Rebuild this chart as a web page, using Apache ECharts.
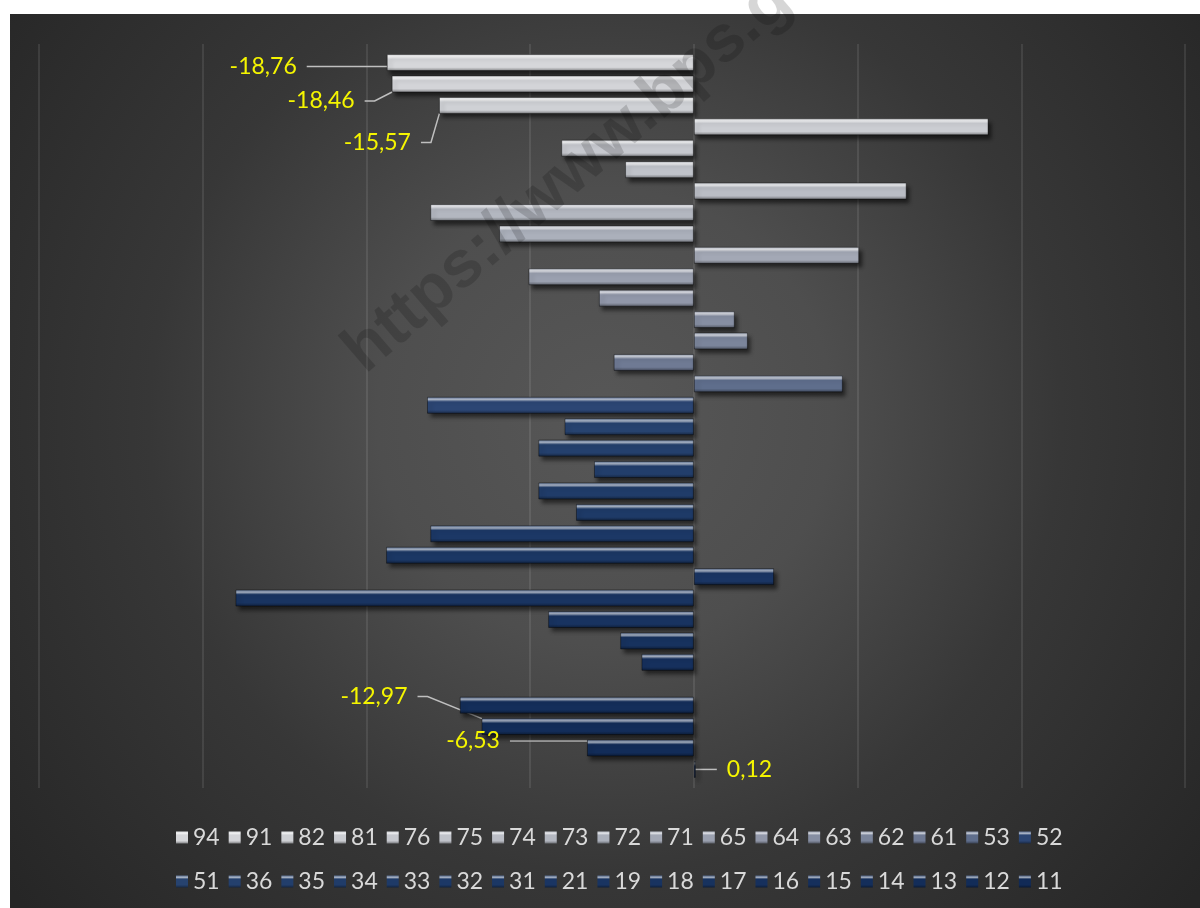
<!DOCTYPE html>
<html>
<head>
<meta charset="utf-8">
<script src="https://cdn.jsdelivr.net/npm/echarts@6/dist/echarts.min.js"></script>
<style>
  html, body { margin: 0; padding: 0; background: #fff; }
  #chart { width: 1200px; height: 908px; }
</style>
</head>
<body>
<div id="chart"></div>
<script>
// series names (legend order, top bar first)
const names = ['94','91','82','81','76','75','74','73','72','71','65','64','63','62','61','53','52',
               '51','36','35','34','33','32','31','21','19','18','17','16','15','14','13','12','11'];
const values = [-18.76, -18.46, -15.57, 18.0, -8.1, -4.2, 13.0, -16.1, -11.9, 10.1, -10.1, -5.8, 2.5, 3.3, -4.9, 9.1, -16.3,
                -7.9, -9.5, -6.1, -9.5, -7.2, -16.1, -18.8, 4.9, -28.0, -8.9, -4.5, -3.2, null, -14.3, -12.97, -6.53, 0.12];
const colors = ['#d6d7da','#d3d4d8','#cfd1d5','#cbcdd2','#c6c8ce','#c0c3ca','#babdc5','#b3b7c0','#abb0bb','#a3a8b5',
                '#9aa0af','#9197a9','#868ea2','#7b859b','#6f7a94','#5f6e8c','#2c4674','#27436f','#24406d','#223e6b',
                '#203c69','#1e3a67','#1c3866','#1b3764','#1a3563','#193461','#183360','#17325e','#16305d','#152f5c',
                '#142e5a','#132d59','#122c58','#112a56'];
const row1 = names.slice(0, 17);
const row2 = names.slice(17);
// which bars carry a value label
const labelled = {
  '94': { position: 'left', distance: 80, dy: 4 },
  '91': { position: 'left', distance: 27, dy: 17 },
  '82': { position: 'left', distance: 18, dy: 37 },
  '13': { position: 'left', distance: 64, dy: -30 },
  '12': { position: 'left', distance: 77, dy: -7 },
  '11': { position: 'right', distance: 21, dy: 0 }
};

const FONT = 'Lato, "Open Sans", sans-serif';

function shade(hex, amt) {
  let c = parseInt(hex.slice(1), 16);
  let r = c >> 16, g = (c >> 8) & 255, b = c & 255;
  const t = amt < 0 ? 0 : 255, p = Math.abs(amt);
  r = Math.round(r + (t - r) * p); g = Math.round(g + (t - g) * p); b = Math.round(b + (t - b) * p);
  return 'rgb(' + r + ',' + g + ',' + b + ')';
}

function bevel(hex) {
  return new echarts.graphic.LinearGradient(0, 0, 0, 1, [
    { offset: 0, color: shade(hex, 0.25) },
    { offset: 0.16, color: shade(hex, 0.6) },
    { offset: 0.3, color: hex },
    { offset: 0.78, color: hex },
    { offset: 1, color: shade(hex, -0.4) }
  ]);
}

const series = names.map((n, i) => {
  const lab = labelled[n];
  const s = {
    name: n,
    type: 'bar',
    data: [values[i]],
    barWidth: 17,
    barGap: '26%',
    itemStyle: {
      color: bevel(colors[i]),
      borderColor: 'rgba(0,0,0,0.4)',
      borderWidth: 1,
      shadowColor: 'rgba(0,0,0,0.55)',
      shadowBlur: 4,
      shadowOffsetX: 3,
      shadowOffsetY: 4
    },
    label: { show: false }
  };
  if (lab) {
    s.label = {
      show: true,
      position: lab.position,
      distance: lab.distance,
      padding: [0, 10, 0, 10],
      backgroundColor: 'rgba(0,0,0,0)',
      color: '#f5f500',
      fontFamily: FONT,
      fontSize: 23,
      formatter: p => p.value.toFixed(2).replace('.', ',')
    };
    s.labelLayout = { dy: lab.dy };
    s.labelLine = { show: true, length2: 10, lineStyle: { color: '#bfbfbf', width: 1.5 } };
  }
  return s;
});

const legendBase = {
  left: 176,
  padding: 0,
  itemWidth: 12,
  itemHeight: 12,
  itemGap: 9,
  icon: 'rect',
  selectedMode: false,
  textStyle: { color: '#d9d9d9', fontFamily: FONT, fontSize: 23 },
  itemStyle: { borderWidth: 0, shadowBlur: 0, shadowOffsetX: 0, shadowOffsetY: 0 }
};

const chart = echarts.init(document.getElementById('chart'));
chart.setOption({
  animation: false,
  backgroundColor: '#ffffff',
  graphic: [
    {
      type: 'rect', z: -100, silent: true,
      shape: { x: 10, y: 14, width: 1190, height: 894 },
      style: {
        fill: new echarts.graphic.RadialGradient(0.5, 0.45, 0.85, [
          { offset: 0, color: '#575757' },
          { offset: 0.3, color: '#4e4e4e' },
          { offset: 0.6, color: '#373737' },
          { offset: 1, color: '#262626' }
        ])
      }
    },
    {
      type: 'text', z: 100, silent: true,
      x: 375, y: 386, rotation: 0.71,
      style: {
        text: 'https://www.bps.go.id',
        font: 'bold 66px "Liberation Sans", Arial, sans-serif',
        fill: 'rgba(0,0,0,0.16)',
        textAlign: 'left',
        textVerticalAlign: 'bottom'
      }
    }
  ],
  grid: { left: 39, right: 15, top: 44, bottom: 120, containLabel: false },
  xAxis: {
    type: 'value',
    min: -40, max: 30, interval: 10,
    axisLabel: { show: false },
    axisLine: { show: false },
    axisTick: { show: false },
    splitLine: { show: true, lineStyle: { color: 'rgba(255,255,255,0.12)', width: 1.5 } }
  },
  yAxis: {
    type: 'category',
    data: [''],
    axisLabel: { show: false },
    axisLine: { show: false },
    axisTick: { show: false }
  },
  legend: [
    Object.assign({}, legendBase, { top: 826, data: row1 }),
    Object.assign({}, legendBase, { top: 870, data: row2 })
  ],
  series: series
});
</script>
</body>
</html>
